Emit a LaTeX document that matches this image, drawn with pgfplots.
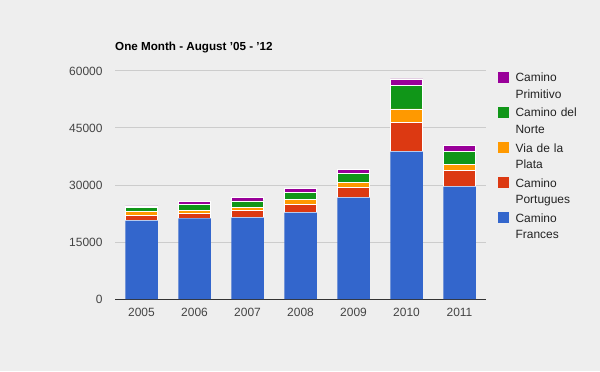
\documentclass[border=0pt]{standalone}
\usepackage{pgfplots}
\pgfplotsset{compat=1.18}
\usepackage{fontspec}
\setmainfont{Liberation Sans}
\definecolor{bg}{HTML}{EEEEEE}
\definecolor{gridc}{HTML}{CCCCCC}
\definecolor{axisc}{HTML}{333333}
\definecolor{tickc}{HTML}{444444}
\definecolor{legc}{HTML}{222222}
\definecolor{cfr}{HTML}{3366CC}
\definecolor{cpo}{HTML}{DC3912}
\definecolor{cvp}{HTML}{FF9900}
\definecolor{cno}{HTML}{109618}
\definecolor{cpr}{HTML}{990099}
\begin{document}
\begin{tikzpicture}[x=1bp,y=1bp]
\fill[bg] (0,0) rectangle (600,371);
\begin{axis}[
  at={(115bp,72bp)}, anchor=south west,
  scale only axis, width=371bp, height=228bp,
  xmin=-0.5, xmax=6.5, ymin=0, ymax=60000,
  ybar stacked, bar width=32.5bp,
  xtick={0,1,2,3,4,5,6},
  xticklabels={2005,2006,2007,2008,2009,2010,2011},
  ytick={0,15000,30000,45000,60000},
  scaled y ticks=false,
  /pgf/number format/1000 sep={},
  /pgf/number format/assume math mode=true,
  ymajorgrids, grid style={draw=gridc, line width=1bp},
  axis x line*=bottom, axis y line*=left,
  y axis line style={draw=none},
  x axis line style={draw=axisc, line width=1bp, -},
  major tick length=0pt,
  tick label style={font=\fontsize{12}{14}\selectfont, text=tickc},
  yticklabel style={xshift=-9bp},
  xticklabel style={yshift=-6bp},
  title={One Month - August '05 - '12},
  title style={at={(0,1)}, anchor=west, yshift=18bp, inner sep=0pt,
    font=\bfseries\fontsize{11.7}{14}\selectfont},
  legend style={at={(1,1)}, anchor=north west, xshift=12bp, draw=none,
    fill=none, inner sep=0pt, font=\fontsize{12}{16.5}\selectfont,
    text=legc, cells={anchor=west}, row sep=21bp,
    nodes={text width=75bp, align=left}},
  reverse legend,
  legend image code/.code={\fill[#1, draw=none] (0bp,-4.5bp) rectangle (11bp,6.5bp); \path (15bp,0bp);},
]
\addplot[fill=cfr, draw=none] coordinates {(0,20600) (1,21200) (2,21400) (3,22700) (4,26700) (5,38800) (6,29600)};
\addlegendentry{Camino\\Frances}
\addplot[fill=cpo, draw=white, line width=0.8bp] coordinates {(0,1500) (1,1300) (2,1800) (3,2300) (4,2600) (5,7600) (6,4300)};
\addlegendentry{Camino\\Portugues}
\addplot[fill=cvp, draw=white, line width=0.8bp] coordinates {(0,900) (1,700) (2,800) (3,1100) (4,1300) (5,3600) (6,1600)};
\addlegendentry{Via de la\\Plata}
\addplot[fill=cno, draw=white, line width=0.8bp] coordinates {(0,1000) (1,1700) (2,1800) (3,2000) (4,2500) (5,6100) (6,3400)};
\addlegendentry{Camino del\\Norte}
\addplot[fill=cpr, draw=white, line width=0.8bp] coordinates {(0,500) (1,700) (2,900) (3,1000) (4,1100) (5,1800) (6,1400)};
\addlegendentry{Camino\\Primitivo}
\end{axis}
\end{tikzpicture}
\end{document}
